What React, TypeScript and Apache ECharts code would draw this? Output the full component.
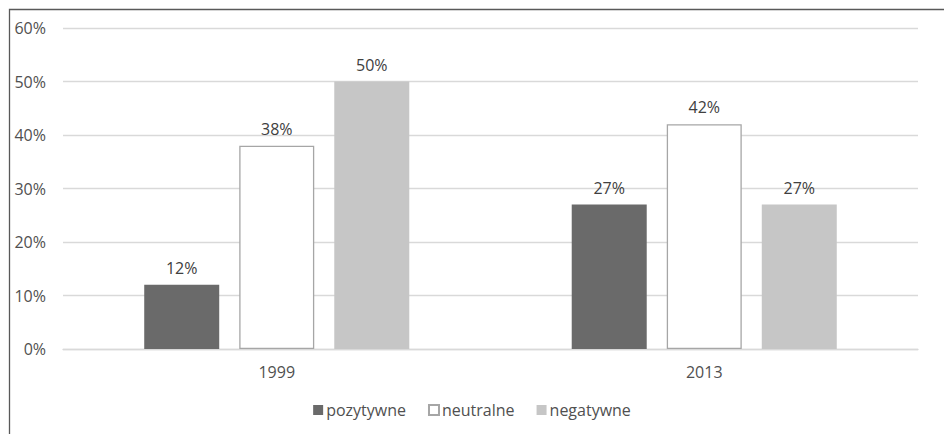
import React, { useEffect, useRef } from "react";
import * as echarts from "echarts";

const categories = ["1999", "2013"];
const seriesNames = ["pozytywne", "neutralne", "negatywne"];
const pozytywne = [12, 27];
const neutralne = [38, 42];
const negatywne = [50, 27];
const yTicks = [0, 10, 20, 30, 40, 50, 60];

const FONT = "'Open Sans', 'Noto Sans', sans-serif";
const TEXT = "#404040";
const AXIS_TEXT = "#505050";

export default function App() {
  const ref = useRef<HTMLDivElement>(null);
  useEffect(() => {
    if (!ref.current) return;
    const chart = echarts.init(ref.current, undefined, { renderer: "svg" });
    const label = {
      show: true,
      position: "top",
      distance: 9,
      formatter: (p: any) => p.value + "%",
      color: TEXT,
      fontSize: 16,
      fontFamily: FONT,
    };
    const styles = [
      { color: "#6a6a6a" },
      { color: "#ffffff", borderColor: "#a6a6a6", borderWidth: 1.3 },
      { color: "#c6c6c6" },
    ];
    const datas = [pozytywne, neutralne, negatywne];
    chart.setOption({
      animation: false,
      textStyle: { fontFamily: FONT },
      grid: { left: 63, right: 26, top: 28, bottom: 85, containLabel: false },
      graphic: [
        {
          type: "rect",
          shape: { x: 9.5, y: 9.5, width: 1000, height: 1000 },
          style: { fill: "none", stroke: "#595959", lineWidth: 1.3 },
          silent: true,
        },
      ],
      legend: {
        show: true,
        bottom: 11,
        left: "center",
        itemWidth: 10,
        itemHeight: 10,
        itemGap: 22,
        icon: "rect",
        textStyle: { color: AXIS_TEXT, fontSize: 16, fontFamily: FONT, padding: [0, 0, 0, -2] },
        data: seriesNames,
      },
      xAxis: {
        type: "category",
        data: categories,
        axisLine: { show: true, lineStyle: { color: "#d9d9d9", width: 1.3 } },
        axisTick: { show: false },
        axisLabel: { color: AXIS_TEXT, fontSize: 16, fontFamily: FONT, margin: 15 },
      },
      yAxis: {
        type: "value",
        min: yTicks[0],
        max: yTicks[yTicks.length - 1],
        interval: 10,
        axisLine: { show: false },
        axisTick: { show: false },
        axisLabel: {
          color: AXIS_TEXT,
          fontSize: 16,
          fontFamily: FONT,
          margin: 17,
          formatter: (v: number) => v + "%",
        },
        splitLine: { lineStyle: { color: "#d9d9d9", width: 1.3 } },
      },
      series: seriesNames.map((name, i) => ({
        name,
        type: "bar",
        data: datas[i],
        barWidth: 75,
        barGap: "26.7%",
        itemStyle: styles[i],
        label,
      })),
    });
    return () => chart.dispose();
  }, []);
  return (
    <div
      ref={ref}
      style={{ position: "fixed", left: 0, top: 0, width: 944, height: 434, overflow: "hidden", background: "#fff" }}
    />
  );
}
